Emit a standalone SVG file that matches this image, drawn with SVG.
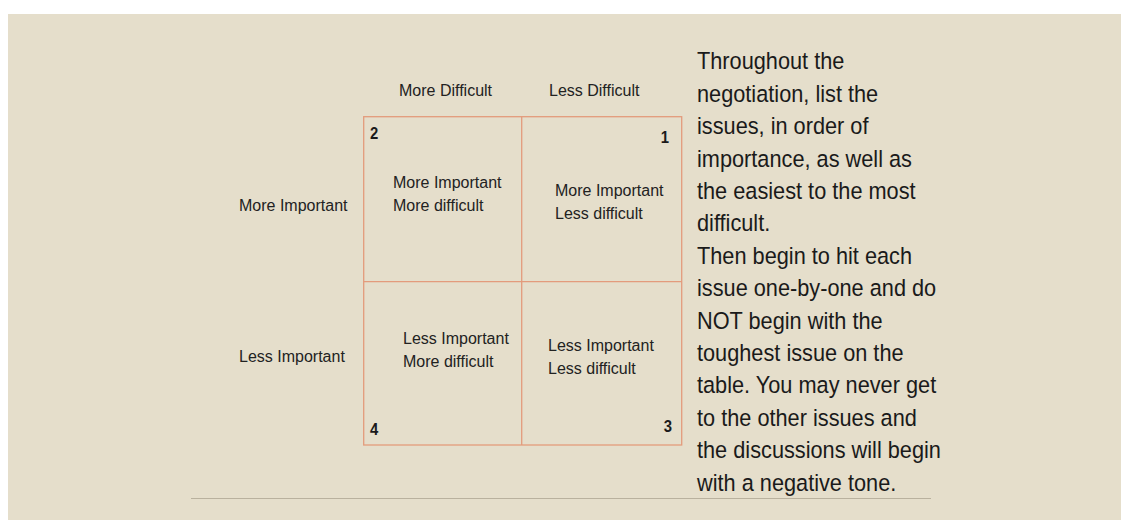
<svg xmlns="http://www.w3.org/2000/svg" width="1121" height="520" viewBox="0 0 1121 520">
  <style>
    .lbl { font-family: "Liberation Sans", Arial, sans-serif; font-size: 16px; fill: #222; }
    .num { font-family: "Liberation Sans", Arial, sans-serif; font-size: 16.5px; font-weight: bold; fill: #1a1a1a; }
    .para { font-family: "Liberation Sans", Arial, sans-serif; font-size: 23.5px; fill: #1a1a1a; }
    .grid { fill: none; stroke: #E39B7C; stroke-width: 1.3; }
  </style>

  <!-- page -->
  <rect x="0" y="0" width="1121" height="520" fill="#ffffff"/>
  <rect x="8" y="14" width="1113" height="506" fill="#E5DECB"/>

  <!-- axis headings -->
  <g id="col-more-difficult"><text class="lbl" x="399" y="96">More Difficult</text></g>
  <g id="col-less-difficult"><text class="lbl" x="549" y="96">Less Difficult</text></g>
  <g id="row-more-important"><text class="lbl" x="239" y="211">More Important</text></g>
  <g id="row-less-important"><text class="lbl" x="239" y="362">Less Important</text></g>

  <!-- quadrant grid lines -->
  <g id="connectors">
    <rect class="grid" x="363.7" y="116.7" width="318" height="328.3"/>
    <line class="grid" x1="521.7" y1="116.7" x2="521.7" y2="445"/>
    <line class="grid" x1="363.7" y1="281.7" x2="681.7" y2="281.7"/>
  </g>

  <!-- quadrants -->
  <g id="q2">
    <text class="num" x="370" y="139" transform="translate(370,0) scale(0.9,1) translate(-370,0)">2</text>
    <text class="lbl" x="393" y="188">More Important</text>
    <text class="lbl" x="393" y="211">More difficult</text>
  </g>
  <g id="q1">
    <text class="num" x="669" y="143" text-anchor="end" transform="translate(669,0) scale(0.9,1) translate(-669,0)">1</text>
    <text class="lbl" x="555" y="196">More Important</text>
    <text class="lbl" x="555" y="219">Less difficult</text>
  </g>
  <g id="q4">
    <text class="num" x="370" y="435" transform="translate(370,0) scale(0.9,1) translate(-370,0)">4</text>
    <text class="lbl" x="403" y="344">Less Important</text>
    <text class="lbl" x="403" y="367">More difficult</text>
  </g>
  <g id="q3">
    <text class="num" x="672" y="432" text-anchor="end" transform="translate(672,0) scale(0.9,1) translate(-672,0)">3</text>
    <text class="lbl" x="548" y="351">Less Important</text>
    <text class="lbl" x="548" y="374">Less difficult</text>
  </g>

  <!-- explanatory paragraph -->
  <g id="notes" transform="translate(697,0) scale(0.925,1)">
    <text class="para" x="0" y="69.5">Throughout the</text>
    <text class="para" x="0" y="101.9">negotiation, list the</text>
    <text class="para" x="0" y="134.3">issues, in order of</text>
    <text class="para" x="0" y="166.7">importance, as well as</text>
    <text class="para" x="0" y="199.1">the easiest to the most</text>
    <text class="para" x="0" y="231.5">difficult.</text>
    <text class="para" x="0" y="263.9">Then begin to hit each</text>
    <text class="para" x="0" y="296.3">issue one-by-one and do</text>
    <text class="para" x="0" y="328.7">NOT begin with the</text>
    <text class="para" x="0" y="361.1">toughest issue on the</text>
    <text class="para" x="0" y="393.5">table. You may never get</text>
    <text class="para" x="0" y="425.9">to the other issues and</text>
    <text class="para" x="0" y="458.3">the discussions will begin</text>
    <text class="para" x="0" y="490.7">with a negative tone.</text>
  </g>

  <!-- footer rule -->
  <line x1="191" y1="498.5" x2="931" y2="498.5" stroke="#B9B19E" stroke-width="1.2"/>
</svg>
